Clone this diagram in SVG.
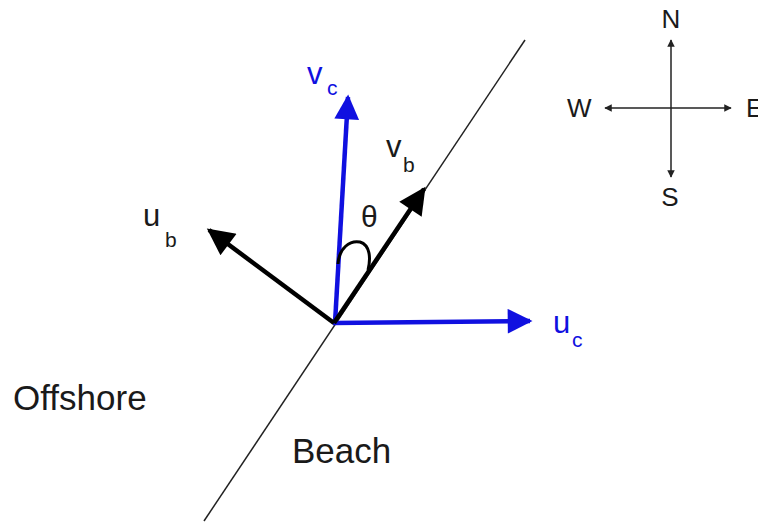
<svg xmlns="http://www.w3.org/2000/svg" width="758" height="523" viewBox="0 0 758 523">
<defs>
<style>
text{font-family:"Liberation Sans",Arial,sans-serif;fill:#1a1a1a}
.blue{fill:#1010e0}
.vb{stroke-width:4.5;fill:none}
.lbl{font-size:31px}
.sub{font-size:21px}
.cmp{font-size:26px}
.thin{stroke:#222;stroke-width:1.5;fill:none}
</style>
<marker id="ahB" viewBox="0 0 10 10" refX="9" refY="5" markerWidth="8" markerHeight="5.5" markerUnits="strokeWidth" orient="auto"><path d="M0,0L10,5L0,10z" fill="#1010e0"/></marker>
<marker id="ahK" viewBox="0 0 10 10" refX="9" refY="5" markerWidth="7.5" markerHeight="6" markerUnits="strokeWidth" orient="auto"><path d="M0,0L10,5L0,10z" fill="#000"/></marker>
<marker id="ahS" viewBox="0 0 10 10" refX="9" refY="5" markerWidth="6.5" markerHeight="5" markerUnits="strokeWidth" orient="auto"><path d="M0,0L10,5L0,10z" fill="#222"/></marker>
</defs>
<rect width="758" height="523" fill="#fff"/>
<g id="shoreline"><line class="thin" x1="525" y1="40" x2="204" y2="521"/></g>
<g id="connectors">
<line class="vb" stroke="#1010e0" x1="335" y1="323" x2="348" y2="97" marker-end="url(#ahB)"/>
<line class="vb" stroke="#1010e0" x1="333" y1="323" x2="530" y2="321" marker-end="url(#ahB)"/>
<line class="vb" stroke="#000" x1="334" y1="323" x2="424" y2="189" marker-end="url(#ahK)"/>
<line class="vb" stroke="#000" x1="334" y1="323" x2="209" y2="230" marker-end="url(#ahK)"/>
<path d="M338,264 C339,248 350,240 360,242 C370,245 371,258 368,270" fill="none" stroke="#000" stroke-width="3"/>
</g>
<g id="compass">
<line class="thin" x1="671" y1="108" x2="671" y2="40" marker-end="url(#ahS)"/>
<line class="thin" x1="671" y1="108" x2="671" y2="177" marker-end="url(#ahS)"/>
<line class="thin" x1="671" y1="108" x2="605" y2="108" marker-end="url(#ahS)"/>
<line class="thin" x1="671" y1="108" x2="731" y2="108" marker-end="url(#ahS)"/>
<text class="cmp" x="671" y="28" text-anchor="middle">N</text>
<text class="cmp" x="670" y="206" text-anchor="middle">S</text>
<text class="cmp" x="567" y="117">W</text>
<text class="cmp" x="746" y="117">E</text>
</g>
<g id="vc-label"><text class="lbl blue" x="307" y="84">v</text><text class="sub blue" x="327" y="95">c</text></g>
<g id="vb-label"><text class="lbl" x="386" y="157">v</text><text class="sub" x="403" y="172">b</text></g>
<g id="ub-label"><text class="lbl" x="143" y="226">u</text><text class="sub" x="165" y="247">b</text></g>
<g id="uc-label"><text class="lbl blue" x="553" y="333">u</text><text class="sub blue" x="572" y="347">c</text></g>
<g id="theta"><text x="361" y="227" font-size="30">θ</text></g>
<g id="offshore"><text x="13" y="410" font-size="35">Offshore</text></g>
<g id="beach"><text x="292" y="463" font-size="35">Beach</text></g>
</svg>
